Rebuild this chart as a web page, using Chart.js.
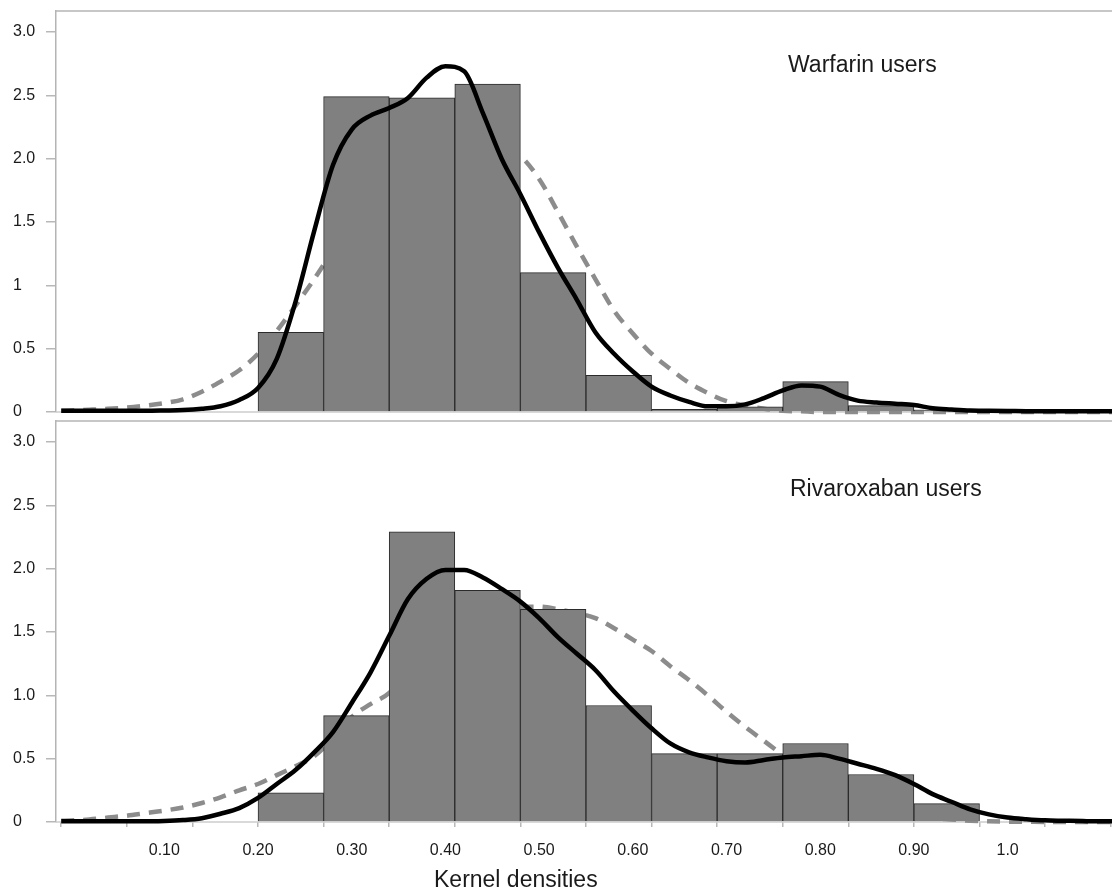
<!DOCTYPE html>
<html>
<head>
<meta charset="utf-8">
<script src="https://cdn.jsdelivr.net/npm/chart.js@4.4.1/dist/chart.umd.min.js"></script>
<style>
  body { margin: 0; background: #fff; }
  #wrap { position: relative; width: 1112px; height: 892px; overflow: hidden; font-family: "Liberation Sans", Arial, sans-serif; }
  canvas { position: absolute; left: 0; }
  #topChart { top: 0; }
  #bottomChart { top: 400px; }
  .lbl { position: absolute; font-size: 23px; line-height: 23px; color: #1a1a1a; white-space: nowrap; }
</style>
</head>
<body>
<div id="wrap">
  <canvas id="topChart" width="1112" height="426"></canvas>
  <canvas id="bottomChart" width="1112" height="492"></canvas>
  <div class="lbl" style="left:788px; top:53px;">Warfarin users</div>
  <div class="lbl" style="left:790px; top:477px;">Rivaroxaban users</div>
  <div class="lbl" style="left:434px; top:868px;">Kernel densities</div>
</div>
<script>
// histogram bins (width 0.07, starting at 0.20)
const binCenters = [0.235, 0.305, 0.375, 0.445, 0.515, 0.585, 0.655, 0.725, 0.795, 0.865, 0.935];
const warfarinBars = [0.63, 2.49, 2.48, 2.59, 1.10, 0.29, 0.022, 0.04, 0.24, 0.05, 0.015];
const rivaroxabanBars = [0.23, 0.84, 2.29, 1.83, 1.68, 0.92, 0.54, 0.54, 0.62, 0.375, 0.145];

// density curves
const curveX = [-0.01, 0.00, 0.02, 0.04, 0.06, 0.08, 0.10, 0.12, 0.14, 0.16, 0.18, 0.20, 0.22, 0.24, 0.26, 0.28,
  0.30, 0.32, 0.34, 0.36, 0.38, 0.40, 0.42, 0.44, 0.46, 0.48, 0.50, 0.52, 0.54, 0.56, 0.58, 0.60, 0.62, 0.64,
  0.66, 0.68, 0.70, 0.72, 0.74, 0.76, 0.78, 0.80, 0.82, 0.84, 0.86, 0.88, 0.90, 0.92, 0.94, 0.96, 0.98, 1.00,
  1.02, 1.04, 1.06, 1.08, 1.10, 1.12];
const warfarinKernel = [0.01, 0.01, 0.01, 0.01, 0.01, 0.01, 0.012, 0.015, 0.025, 0.045, 0.095, 0.19, 0.42, 0.87, 1.43, 1.95,
  2.23, 2.34, 2.40, 2.48, 2.64, 2.73, 2.69, 2.36, 2.00, 1.72, 1.42, 1.14, 0.89, 0.63, 0.46, 0.32, 0.20, 0.13,
  0.08, 0.045, 0.045, 0.06, 0.11, 0.17, 0.21, 0.20, 0.135, 0.09, 0.075, 0.065, 0.055, 0.03, 0.02, 0.012, 0.01, 0.008,
  0.006, 0.005, 0.005, 0.005, 0.005, 0.005];
const warfarinNormal = [0.01, 0.012, 0.018, 0.025, 0.035, 0.05, 0.07, 0.10, 0.16, 0.24, 0.33, 0.46, 0.64, 0.84, 1.05, 1.28,
  1.52, 1.75, 1.95, 2.10, 2.18, 2.20, 2.18, 2.13, 2.08, 2.02, 1.84, 1.58, 1.31, 1.05, 0.80, 0.62, 0.46, 0.34,
  0.23, 0.15, 0.085, 0.05, 0.025, 0.01, 0.005, 0, 0, 0, 0, 0, 0, 0, 0, 0, 0, 0,
  0, 0, 0, 0, 0, 0];
const rivaroxabanKernel = [0.005, 0.005, 0.005, 0.005, 0.005, 0.006, 0.008, 0.015, 0.03, 0.065, 0.11, 0.19, 0.30, 0.41, 0.55, 0.71,
  0.94, 1.18, 1.47, 1.76, 1.92, 1.99, 1.99, 1.93, 1.84, 1.74, 1.61, 1.46, 1.33, 1.20, 1.03, 0.88, 0.74, 0.62,
  0.55, 0.51, 0.48, 0.47, 0.49, 0.51, 0.52, 0.53, 0.50, 0.46, 0.42, 0.37, 0.30, 0.22, 0.16, 0.10, 0.06, 0.035,
  0.022, 0.013, 0.01, 0.007, 0.005, 0.005];
const rivaroxabanNormal = [0.01, 0.012, 0.02, 0.035, 0.05, 0.07, 0.09, 0.115, 0.15, 0.195, 0.25, 0.30, 0.37, 0.44, 0.52, 0.66,
  0.83, 0.93, 1.02, 1.20, 1.40, 1.52, 1.60, 1.66, 1.69, 1.70, 1.70, 1.68, 1.65, 1.61, 1.53, 1.44, 1.35, 1.23,
  1.12, 1.00, 0.87, 0.75, 0.64, 0.53, 0.43, 0.33, 0.25, 0.18, 0.12, 0.08, 0.05, 0.03, 0.02, 0.01, 0.005, 0.003,
  0.002, 0, 0, 0, 0, 0];

// axes
const yTicks = [0, 0.5, 1, 1.5, 2, 2.5, 3];
const yLabelsTop = ['0', '0.5', '1', '1.5', '2.0', '2.5', '3.0'];
const yLabelsBottom = ['0', '0.5', '1.0', '1.5', '2.0', '2.5', '3.0'];
const xLabelValues = [0.1, 0.2, 0.3, 0.4, 0.5, 0.6, 0.7, 0.8, 0.9, 1.0];
const xLabels = ['0.10', '0.20', '0.30', '0.40', '0.50', '0.60', '0.70', '0.80', '0.90', '1.0'];
const xTickMarks = [0.025, 0.095, 0.165, 0.235, 0.305, 0.375, 0.445, 0.515, 0.585, 0.655, 0.725, 0.795, 0.865, 0.935, 1.005, 1.075];

const X_MIN = -0.0156;
const X_MAX = 1.1114;
const Y_MAX = 3.166;

Chart.defaults.font.family = '"Liberation Sans", Arial, sans-serif';
Chart.defaults.color = '#1a1a1a';

const framePlugin = {
    id: 'frame',
    beforeDatasetsDraw(chart) {
        const { ctx, chartArea: a } = chart;
        ctx.save();
        ctx.lineWidth = 1.5;
        ctx.strokeStyle = '#b4b4b4';
        ctx.beginPath();
        ctx.moveTo(a.left, a.top);
        ctx.lineTo(a.right, a.top);
        ctx.stroke();
        ctx.strokeStyle = '#cccccc';
        ctx.beginPath();
        ctx.moveTo(a.left, a.bottom);
        ctx.lineTo(a.right, a.bottom);
        ctx.stroke();
        ctx.restore();
    }
};

function points(xs, ys) {
    return xs.map((x, i) => ({ x: x, y: ys[i] }));
}

function makePanel(id, bars, kernel, normal, yLabels, showX) {
    const scales = {
        x: {
            type: 'linear',
            min: X_MIN,
            max: X_MAX,
            offset: false,
            display: showX,
            weight: 1,
            grid: { display: false, drawTicks: false, tickLength: 0 },
            border: { display: false },
            afterBuildTicks: s => { s.ticks = xLabelValues.map(v => ({ value: v })); },
            afterFit: s => { s.height = showX ? 70 : 0; },
            ticks: {
                padding: 19,
                maxRotation: 0,
                autoSkip: false,
                font: { size: 16 },
                color: '#1a1a1a',
                callback: (v, i) => xLabels[i]
            }
        },
        y: {
            min: 0,
            max: Y_MAX,
            position: 'left',
            afterBuildTicks: s => { s.ticks = yTicks.map(v => ({ value: v })); },
            afterFit: s => { s.width = 43; },
            border: { color: '#b4b4b4', width: 1.5 },
            grid: { drawOnChartArea: false, tickLength: 10, color: '#b8b8b8', lineWidth: 1.5 },
            ticks: {
                crossAlign: 'far',
                padding: 0,
                font: { size: 16 },
                color: '#1a1a1a',
                callback: (v, i) => yLabels[i]
            }
        }
    };
    if (showX) {
        scales.xt = {
            type: 'linear',
            min: X_MIN,
            max: X_MAX,
            position: 'bottom',
            offset: false,
            weight: 0,
            afterBuildTicks: s => { s.ticks = xTickMarks.map(v => ({ value: v })); },
            afterFit: s => { s.height = 0; },
            border: { display: false },
            grid: { drawOnChartArea: false, tickLength: 5, color: '#b8b8b8', lineWidth: 1.5 },
            ticks: { display: false }
        };
    }

    return new Chart(document.getElementById(id), {
        type: 'bar',
        data: {
            datasets: [
                {
                    type: 'line',
                    data: points(curveX, kernel),
                    borderColor: '#000000',
                    borderWidth: 4.5,
                    pointRadius: 0,
                    cubicInterpolationMode: 'monotone',
                    clip: false,
                    order: 0
                },
                {
                    type: 'bar',
                    data: points(binCenters, bars),
                    backgroundColor: '#808080',
                    borderColor: '#2b2b2b',
                    borderWidth: 1,
                    barPercentage: 1,
                    categoryPercentage: 1,
                    order: 1
                },
                {
                    type: 'line',
                    data: points(curveX, normal),
                    borderColor: '#8c8c8c',
                    borderWidth: 4.5,
                    borderDash: [13, 9],
                    pointRadius: 0,
                    cubicInterpolationMode: 'monotone',
                    clip: false,
                    order: 2
                }
            ]
        },
        options: {
            responsive: false,
            animation: false,
            devicePixelRatio: 1,
            layout: { padding: showX ? { top: 21, left: 13, right: 0, bottom: 0 } : { top: 11, left: 13, right: 0, bottom: 14 } },
            plugins: { legend: { display: false }, tooltip: { enabled: false } },
            scales: scales
        },
        plugins: [framePlugin]
    });
}

makePanel('topChart', warfarinBars, warfarinKernel, warfarinNormal, yLabelsTop, false);
makePanel('bottomChart', rivaroxabanBars, rivaroxabanKernel, rivaroxabanNormal, yLabelsBottom, true);
</script>
</body>
</html>
